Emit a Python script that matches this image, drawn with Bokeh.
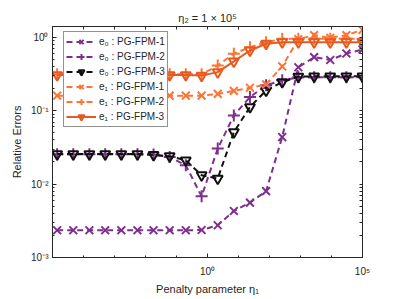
from bokeh.plotting import figure
from bokeh.models import LogAxis, FixedTicker, Legend, LegendItem, Range1d
from bokeh.embed import file_html
from bokeh.resources import INLINE

# penalty parameter eta_1 (x positions of the samples)
eta1 = [1.413e-5, 4.677e-5, 1.549e-4, 5.012e-4, 1.660e-3, 5.495e-3, 1.820e-2, 6.026e-2,
        0.1995, 0.6457, 2.138, 7.079, 23.44, 77.62, 257.0, 851.1, 2754.0, 9120.0, 30200.0, 100000.0]

e0_fpm1 = [0.00235, 0.00235, 0.00235, 0.00235, 0.00235, 0.00235, 0.00235, 0.00235, 0.00235, 0.00237,
           0.00275, 0.0043, 0.0056, 0.0080, 0.0437, 0.39, 0.536, 0.49, 0.60, 0.68]
e0_fpm2 = [0.0254, 0.0254, 0.0254, 0.0254, 0.0254, 0.0254, 0.0252, 0.0233, 0.018, 0.0068,
           0.0304, 0.086, 0.153, 0.221, 0.26, 0.284, 0.285, 0.285, 0.285, 0.285]
e0_fpm3 = [0.0256, 0.0256, 0.0256, 0.0256, 0.0256, 0.0256, 0.0250, 0.0240, 0.0211, 0.0132,
           0.0119, 0.051, 0.112, 0.188, 0.245, 0.29, 0.293, 0.293, 0.293, 0.293]
e1_fpm1 = [0.16, 0.16, 0.16, 0.16, 0.16, 0.16, 0.16, 0.16, 0.16, 0.16,
           0.169, 0.186, 0.205, 0.228, 0.40, 0.94, 1.07, 0.98, 1.07, 1.26]
e1_fpm2 = [0.312, 0.312, 0.312, 0.312, 0.312, 0.312, 0.312, 0.312, 0.312, 0.312,
           0.413, 0.596, 0.733, 0.857, 0.95, 0.95, 0.95, 0.95, 0.95, 0.95]
e1_fpm3 = [0.305, 0.305, 0.305, 0.305, 0.305, 0.305, 0.305, 0.305, 0.305, 0.30,
           0.335, 0.469, 0.66, 0.816, 0.857, 0.857, 0.857, 0.857, 0.857, 0.857]

series_labels = ["e\u2080 : PG-FPM-1", "e\u2080 : PG-FPM-2", "e\u2080 : PG-FPM-3",
                 "e\u2081 : PG-FPM-1", "e\u2081 : PG-FPM-2", "e\u2081 : PG-FPM-3"]
x_major = [1, 100000]
y_major = [0.001, 0.01, 0.1, 1]
x_tick_labels = {1: "10\u2070", 100000: "10\u2075"}
y_tick_labels = {0.001: "10\u207b\u00b3", 0.01: "10\u207b\u00b2", 0.1: "10\u207b\u00b9", 1: "10\u2070"}

PURPLE = "#7E2F8E"
BLACK = "#111111"
ORANGE = "#FD7435"
ORANGE2 = "#E65A20"
AXC = "#262626"
FONT = "Liberation Sans"

p = figure(width=398, height=298, x_axis_type="log", y_axis_type="log",
           x_range=Range1d(1e-5, 1e5), y_range=Range1d(1e-3, 1.40),
           output_backend="svg", toolbar_location=None,
           min_border_left=52, min_border_right=36, min_border_top=26, min_border_bottom=41)

p.title.text = "\u03b7\u2082 = 1 \u00d7 10\u2075"
p.title.align = "center"
p.title.text_font = FONT
p.title.text_font_size = "11px"
p.title.text_font_style = "normal"
p.title.text_color = AXC
p.title.standoff = 6

p.xgrid.visible = False
p.ygrid.visible = False
p.outline_line_color = AXC
p.outline_line_width = 1

x_minor = [10.0 ** k for k in range(-5, 6)]
y_minor = [m * 10.0 ** k for k in range(-3, 1) for m in range(2, 10)]


def style_axis(ax):
    ax.axis_line_color = AXC
    ax.major_tick_line_color = AXC
    ax.minor_tick_line_color = AXC
    ax.major_tick_in = 4
    ax.major_tick_out = 0
    ax.minor_tick_in = 2
    ax.minor_tick_out = 0
    ax.major_label_text_font = FONT
    ax.major_label_text_color = AXC
    ax.major_label_text_font_size = "10px"
    ax.axis_label_text_font = FONT
    ax.axis_label_text_font_style = "normal"
    ax.axis_label_text_color = AXC
    ax.axis_label_text_font_size = "11px"


xa = p.xaxis[0]
xa.ticker = FixedTicker(ticks=x_major, minor_ticks=x_minor)
xa.axis_label = "Penalty parameter \u03b7\u2081"
style_axis(xa)
xa.major_label_overrides = x_tick_labels
xa.major_label_standoff = 8
xa.axis_label_standoff = 3

ya = p.yaxis[0]
ya.ticker = FixedTicker(ticks=y_major, minor_ticks=y_minor)
ya.axis_label = "Relative Errors"
style_axis(ya)
ya.major_label_overrides = y_tick_labels
ya.major_label_standoff = 4
ya.axis_label_standoff = 5

# box ticks on the right and top (no labels)
ra = LogAxis(ticker=FixedTicker(ticks=[], minor_ticks=y_minor + y_major))
style_axis(ra)
ra.minor_tick_in = 3
p.add_layout(ra, "right")
ta = LogAxis(ticker=FixedTicker(ticks=[], minor_ticks=x_minor))
style_axis(ta)
ta.minor_tick_in = 3
p.add_layout(ta, "above")

specs = [
    (e0_fpm1, PURPLE, "x", "dashed", 11),
    (e0_fpm2, PURPLE, "cross", "dashed", 12),
    (e0_fpm3, BLACK, "inverted_triangle", "dashed", 10),
    (e1_fpm1, ORANGE, "x", "dashed", 11),
    (e1_fpm2, ORANGE, "cross", "dashed", 12),
    (e1_fpm3, ORANGE2, "inverted_triangle", "solid", 10),
]

items = []
for (vals, col, mk, dash, sz), lab in zip(specs, series_labels):
    ln = p.line(eta1, vals, line_color=col, line_width=2,
                line_dash=("6 4" if dash == "dashed" else "solid"))
    sc = p.scatter(eta1, vals, marker=mk, size=sz, line_color=col, line_width=2,
                   fill_color=None)
    items.append(LegendItem(label=lab, renderers=[ln, sc]))

legend = Legend(items=items, location=(11, 130))
legend.glyph_width = 30
legend.glyph_height = 15
legend.label_height = 15
legend.label_standoff = 3
legend.spacing = 0
legend.padding = 2
legend.margin = 0
legend.label_text_font = FONT
legend.label_text_font_size = "10px"
legend.label_text_color = AXC
legend.border_line_color = AXC
legend.border_line_width = 1
legend.background_fill_color = "white"
legend.background_fill_alpha = 1.0
p.add_layout(legend, "center")

open("out.html", "w").write(file_html(p, INLINE))
